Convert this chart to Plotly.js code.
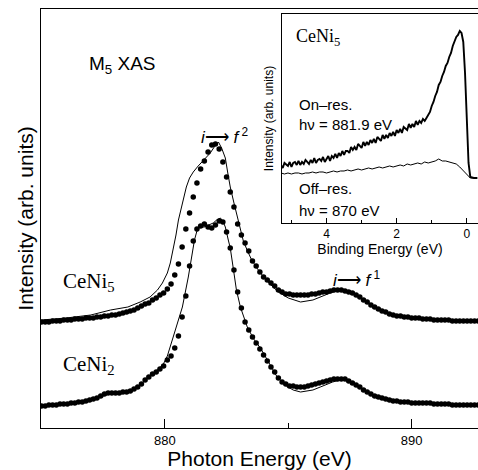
<!DOCTYPE html>
<html>
<head>
<meta charset="utf-8">
<script src="https://cdn.plot.ly/plotly-3.0.1.min.js"></script>
<style>html,body{margin:0;padding:0;background:#fff;}</style>
</head>
<body>
<div id="chart" style="width:478px;height:470px;"></div>
<script>
// Photon energy grid of the measured XAS points (eV)
const energyGrid = [875.00,875.15,875.30,875.45,875.60,875.75,875.90,876.05,876.20,876.35,876.50,876.65,876.80,876.95,877.10,877.25,877.40,877.55,877.70,877.85,878.00,878.15,878.30,878.45,878.60,878.75,878.90,879.05,879.20,879.35,879.50,879.65,879.80,879.95,880.10,880.25,880.40,880.55,880.70,880.85,881.00,881.15,881.30,881.45,881.60,881.75,881.90,882.05,882.20,882.35,882.50,882.65,882.80,882.95,883.10,883.25,883.40,883.55,883.70,883.85,884.00,884.15,884.30,884.45,884.60,884.75,884.90,885.05,885.20,885.35,885.50,885.65,885.80,885.95,886.10,886.25,886.40,886.55,886.70,886.85,887.00,887.15,887.30,887.45,887.60,887.75,887.90,888.05,888.20,888.35,888.50,888.65,888.80,888.95,889.10,889.25,889.40,889.55,889.70,889.85,890.00,890.15,890.30,890.45,890.60,890.75,890.90,891.05,891.20,891.35,891.50,891.65,891.80,891.95,892.10,892.25,892.40,892.55,892.70];

// Measured intensity (arb. units, offset) - CeNi5
const ceni5Exp = [106,106,106,107,107,107,108,108,108,109,109,109,110,110,110,111,111,112,112,113,113,114,115,116,117,118,120,122,124,125,128,130,133,135,139,144,153,164,181,199,215,231,245,259,267,276,283,284,279,266,251,236,221,204,193,185,177,167,162,156,151,148,145,142,138,136,134,134,133,133,133,133,133,134,134,135,136,136,137,138,138,138,137,136,135,133,131,128,126,123,121,119,117,116,114,113,112,112,111,111,110,110,110,109,109,109,108,108,108,108,108,107,107,107,107,107,107,107,107];

// Measured intensity - CeNi2
const ceni2Exp = [22,22,23,23,23,24,24,24,25,25,26,26,27,28,29,30,32,34,35,35,35,35,36,36,37,39,41,44,48,51,54,56,59,62,68,72,80,92,111,132,162,187,199,202,204,201,200,203,207,206,196,180,158,136,120,106,98,91,85,79,73,67,61,56,50,46,44,42,42,41,41,41,42,43,44,45,46,47,48,49,49,49,49,47,45,43,41,38,36,34,32,31,30,29,28,27,27,26,26,26,25,25,25,25,25,25,24,24,24,24,24,23,23,23,23,23,23,23,23];

// Calculated spectra (solid lines)
const ceni5CalcE = [875.0,876.0,877.0,877.8,878.5,879.0,879.4,879.7,879.9,880.1,880.22,880.34,880.45,880.55,880.7,880.87,881.0,881.15,881.35,881.56,881.84,882.0,882.17,882.3,882.45,882.55,882.65,882.8,882.94,883.05,883.18,883.35,883.5,883.7,884.0,884.3,884.6,885.0,885.5,886.0,886.3,886.7,887.1,887.4,887.7,888.2,888.7,889.5,890.6,891.5,892.7];
const ceni5Calc = [108,110,113,118,121,126,131,138,145,155,165,178,193,208,225,241,250,256,262,268,275,281,286,280,270,255,241,225,211,200,187,177,169,161,151,143,136,130,126,128,131,135,138,137,134,126,118,112,109,108,107];

const ceni2CalcE = [875.0,876.7,877.4,877.8,878.5,878.9,879.3,879.7,879.94,880.1,880.3,880.5,880.71,880.95,881.1,881.2,881.32,881.45,881.6,881.8,881.96,882.1,882.25,882.35,882.45,882.57,882.65,882.77,882.9,883.06,883.2,883.34,883.6,883.87,884.2,884.5,884.8,885.2,885.5,886.0,886.3,886.8,887.1,887.4,887.7,888.2,888.7,889.8,890.5,891.4];
const ceni2Calc = [22,26,31,35,36,41,50,58,64,72,88,104,121,151,175,188,199,201,201,203,205,208,210,207,201,188,180,160,138,121,110,101,89,80,66,53,44,38,36,38,41,46,48,48,45,36,31,26,25,25];

// Inset: resonant photoemission of CeNi5 (binding energy, eV)
const onResBE = [5.30,5.25,5.20,5.15,5.10,5.05,5.00,4.95,4.90,4.85,4.80,4.75,4.70,4.65,4.60,4.55,4.50,4.45,4.40,4.35,4.30,4.25,4.20,4.15,4.10,4.05,4.00,3.95,3.90,3.85,3.80,3.75,3.70,3.65,3.60,3.55,3.50,3.45,3.40,3.35,3.30,3.25,3.20,3.15,3.10,3.05,3.00,2.95,2.90,2.85,2.80,2.75,2.70,2.65,2.60,2.55,2.50,2.45,2.40,2.35,2.30,2.25,2.20,2.15,2.10,2.05,2.00,1.95,1.90,1.85,1.80,1.75,1.70,1.65,1.60,1.55,1.50,1.45,1.40,1.35,1.30,1.25,1.20,1.15,1.10,1.05,1.00,0.95,0.90,0.85,0.80,0.75,0.70,0.65,0.60,0.55,0.50,0.45,0.40,0.35,0.30,0.25,0.20,0.15,0.10,0.05,0.00,-0.05,-0.10,-0.20,-0.30];
const onRes = [58,55,60,58,57,61,56,60,61,58,62,58,61,59,63,61,59,63,60,65,60,63,64,62,66,61,64,67,62,67,65,69,65,70,67,72,68,72,72,70,76,73,76,73,79,77,75,81,77,81,78,83,80,84,80,86,84,82,88,84,88,85,90,87,91,87,93,90,94,90,96,94,93,99,95,99,96,102,98,102,100,104,102,105,108,111,117,121,127,131,138,141,147,151,157,160,166,170,177,181,186,188,192,190,181,150,106,60,46,45,45];
const offResBE = [5.3,5.2,5.1,5.0,4.9,4.8,4.7,4.6,4.5,4.4,4.3,4.2,4.1,4.0,3.9,3.8,3.7,3.6,3.5,3.4,3.3,3.2,3.1,3.0,2.9,2.8,2.7,2.6,2.5,2.4,2.3,2.2,2.1,2.0,1.9,1.8,1.7,1.6,1.5,1.4,1.3,1.2,1.1,1.0,0.9,0.8,0.7,0.6,0.5,0.4,0.3,0.2,0.1,0.0,-0.1,-0.2,-0.3];
const offRes = [50,49,50,49,50,50,49,50,50,51,50,51,51,50,51,52,51,52,52,53,52,53,54,53,54,55,54,55,56,55,56,57,56,57,58,57,59,58,59,60,59,61,60,61,62,64,62,62,61,60,59,56,52,48,45,45,45];

const mainTicks = [880, 890];
const mainTickText = ['880', '890'];
const insetTicks = [0, 2, 4];
const insetTickText = ['0', '2', '4'];

const sans = 'Liberation Sans, Arial, Helvetica, sans-serif';
const serif = 'Liberation Serif, Times New Roman, serif';

const traces = [
  {x: ceni5CalcE, y: ceni5Calc, mode: 'lines', line: {color: 'black', width: 1}, xaxis: 'x', yaxis: 'y', hoverinfo: 'skip'},
  {x: ceni2CalcE, y: ceni2Calc, mode: 'lines', line: {color: 'black', width: 1}, xaxis: 'x', yaxis: 'y', hoverinfo: 'skip'},
  {x: energyGrid, y: ceni5Exp, mode: 'markers', marker: {color: 'black', size: 5.5, line: {width: 0}}, xaxis: 'x', yaxis: 'y'},
  {x: energyGrid, y: ceni2Exp, mode: 'markers', marker: {color: 'black', size: 5.5, line: {width: 0}}, xaxis: 'x', yaxis: 'y'},
  {x: offResBE, y: offRes, mode: 'lines', line: {color: 'black', width: 1}, xaxis: 'x2', yaxis: 'y2'},
  {x: onResBE, y: onRes, mode: 'lines', line: {color: 'black', width: 1.9}, xaxis: 'x2', yaxis: 'y2'}
];

function px(x) { return (x - 41) / 437; }
function py(y) { return (428 - y) / 419; }

const ann = (text, x, y, size, family) => ({
  text: text, xref: 'paper', yref: 'paper', x: px(x), y: py(y),
  xanchor: 'left', yanchor: 'middle', showarrow: false,
  font: {size: size, family: family, color: 'black'}
});

const layout = {
  width: 478, height: 470,
  margin: {l: 41, r: 0, t: 9, b: 42},
  paper_bgcolor: 'white', plot_bgcolor: 'white',
  showlegend: false,
  font: {family: sans, color: 'black'},
  xaxis: {
    domain: [0, 1], range: [874.98, 892.69],
    showline: true, linecolor: 'black', linewidth: 1.3, mirror: true,
    ticks: 'inside', ticklen: 9, tickwidth: 1, tickcolor: 'black',
    tickvals: mainTicks, ticktext: mainTickText,
    minor: {tickvals: [885], ticks: 'inside', ticklen: 5, tickwidth: 1, tickcolor: 'black', showgrid: false},
    showgrid: false, zeroline: false,
    tickfont: {size: 13, family: sans},
    title: {text: 'Photon Energy (eV)', font: {size: 21, family: sans}, standoff: 0}
  },
  yaxis: {
    domain: [0, 1], range: [0, 419],
    showline: true, linecolor: 'black', linewidth: 1.3, mirror: false,
    ticks: '', showticklabels: false, showgrid: false, zeroline: false,
    title: {text: 'Intensity (arb. units)', font: {size: 21, family: sans}, standoff: 0}
  },
  xaxis2: {
    anchor: 'y2', domain: [0.5515, 1], range: [5.27, -0.32],
    showline: true, linecolor: 'black', linewidth: 1.2, mirror: true,
    ticks: 'inside', ticklen: 5, tickwidth: 1, tickcolor: 'black',
    tickvals: insetTicks, ticktext: insetTickText,
    minor: {tickvals: [1, 3, 5], ticks: 'inside', ticklen: 3, tickwidth: 1, tickcolor: 'black', showgrid: false},
    showgrid: false, zeroline: false,
    tickfont: {size: 12, family: sans},
    title: {text: 'Binding Energy (eV)', font: {size: 14, family: sans}, standoff: 1}
  },
  yaxis2: {
    anchor: 'x2', domain: [0.4893, 0.9881], range: [0, 209],
    showline: true, linecolor: 'black', linewidth: 1.2, mirror: false,
    ticks: '', showticklabels: false, showgrid: false, zeroline: false,
    title: {text: 'Intensity (arb. units)', font: {size: 12, family: sans}, standoff: 4}
  },
  annotations: [
    ann('M<sub>5</sub> XAS', 87, 65, 19, sans),
    ann('<i>i</i>⟶ <i>f</i><sup> 2</sup>', 199, 136, 17, sans),
    ann('<i>i</i>⟶ <i>f</i><sup> 1</sup>', 331, 279, 17, sans),
    ann('CeNi<sub>5</sub>', 61, 282, 21, serif),
    ann('CeNi<sub>2</sub>', 61, 365, 21, serif),
    ann('CeNi<sub>5</sub>', 294, 37, 18, serif),
    ann('On–res.', 297, 105, 15, sans),
    ann('hν = 881.9 eV', 297, 124, 15, sans),
    ann('Off–res.', 297, 188, 15, sans),
    ann('hν = 870 eV', 297, 210, 15, sans)
  ]
};

Plotly.newPlot('chart', traces, layout, {displayModeBar: false});
</script>
</body>
</html>
